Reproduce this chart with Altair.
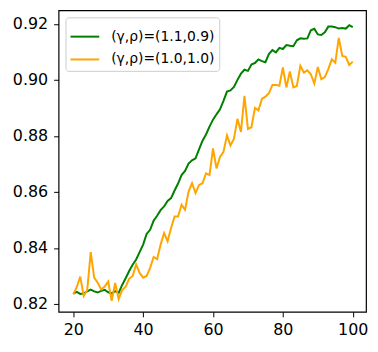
import altair as alt
import pandas as pd

steps = list(range(20, 101))

green_vals = [
    0.8237, 0.8243, 0.8236, 0.8238, 0.8245, 0.8251, 0.8245, 0.8241, 0.8247, 0.8251,
    0.8242, 0.8238, 0.8246, 0.8240, 0.8268, 0.8292, 0.8318, 0.8340, 0.8359, 0.8385,
    0.8412, 0.8450, 0.8465, 0.8497, 0.8515, 0.8535, 0.8548, 0.8568, 0.8578, 0.8605,
    0.8630, 0.8660, 0.8675, 0.8701, 0.8713, 0.8720, 0.8752, 0.8783, 0.8805, 0.8833,
    0.8858, 0.8877, 0.8895, 0.8925, 0.8958, 0.8962, 0.8975, 0.9000, 0.9022, 0.9036,
    0.9032, 0.9055, 0.9060, 0.9073, 0.9067, 0.9063, 0.9092, 0.9106, 0.9098, 0.9114,
    0.9110, 0.9124, 0.9122, 0.9120, 0.9141, 0.9148, 0.9147, 0.9148, 0.9177, 0.9182,
    0.9162, 0.9160, 0.9170, 0.9190, 0.9190, 0.9188, 0.9183, 0.9185, 0.9183, 0.9195,
    0.9188,
]

orange_vals = [
    0.8235, 0.8260, 0.8298, 0.8229, 0.8250, 0.8385, 0.8294, 0.8276, 0.8252, 0.8262,
    0.8280, 0.8211, 0.8275, 0.8218, 0.8250, 0.8262, 0.8290, 0.8300, 0.8341, 0.8311,
    0.8294, 0.8300, 0.8329, 0.8368, 0.8360, 0.8412, 0.8453, 0.8424, 0.8471, 0.8512,
    0.8512, 0.8554, 0.8536, 0.8601, 0.8631, 0.8596, 0.8625, 0.8631, 0.8666, 0.8660,
    0.8755, 0.8684, 0.8725, 0.8743, 0.8802, 0.8766, 0.8790, 0.8861, 0.8814, 0.8943,
    0.8825, 0.8831, 0.8900, 0.8891, 0.8932, 0.8940, 0.8952, 0.8982, 0.8982, 0.8979,
    0.9044, 0.8973, 0.9030, 0.8973, 0.8978, 0.9050, 0.9026, 0.9034, 0.9020, 0.8987,
    0.9046, 0.9002, 0.9010, 0.9038, 0.9073, 0.9061, 0.9150, 0.9085, 0.9082, 0.9053,
    0.9065,
]

series_names = ["(γ,ρ)=(1.1,0.9)", "(γ,ρ)=(1.0,1.0)"]
series_colors = ["#008000", "#FFA500"]
x_ticks = [20, 40, 60, 80, 100]
y_ticks = [0.82, 0.84, 0.86, 0.88, 0.90, 0.92]

rows = []
for x, v in zip(steps, green_vals):
    rows.append({"x": x, "y": v, "series": series_names[0], "order": 0})
for x, v in zip(steps, orange_vals):
    rows.append({"x": x, "y": v, "series": series_names[1], "order": 1})
df = pd.DataFrame(rows)

FONT = "DejaVu Sans"

chart = alt.Chart(df).mark_line(strokeWidth=2).encode(
    x=alt.X("x:Q",
            scale=alt.Scale(domain=[15.8, 103.8], nice=False, zero=False),
            axis=alt.Axis(values=x_ticks, title=None, grid=False, tickSize=5,
                          labelPadding=5, labelFontSize=16, labelFont=FONT,
                          labelColor="black", tickColor="black", domain=False)),
    y=alt.Y("y:Q",
            scale=alt.Scale(domain=[0.8172, 0.9248], nice=False, zero=False),
            axis=alt.Axis(values=y_ticks, format=".2f", title=None, grid=False,
                          tickSize=5, labelPadding=6, labelFontSize=16, labelFont=FONT,
                          labelColor="black", tickColor="black", domain=False)),
    color=alt.Color("series:N",
                    scale=alt.Scale(domain=series_names, range=series_colors),
                    legend=alt.Legend(title=None, orient="top-left", offset=7,
                                      padding=4, strokeColor="#cccccc", fillColor="white",
                                      cornerRadius=3, labelFontSize=14, labelFont=FONT,
                                      labelColor="black",
                                      symbolType="stroke", symbolSize=840,
                                      symbolStrokeWidth=2, labelOffset=11,
                                      rowPadding=0)),
    order="order:Q",
    detail="series:N",
).properties(
    width=310, height=304,
    padding={"left": 4, "top": 1, "right": 2, "bottom": 2},
).configure_view(
    stroke="black", strokeWidth=1.2
)

chart.save("out.html", embed_options={"renderer": "svg", "actions": False})
